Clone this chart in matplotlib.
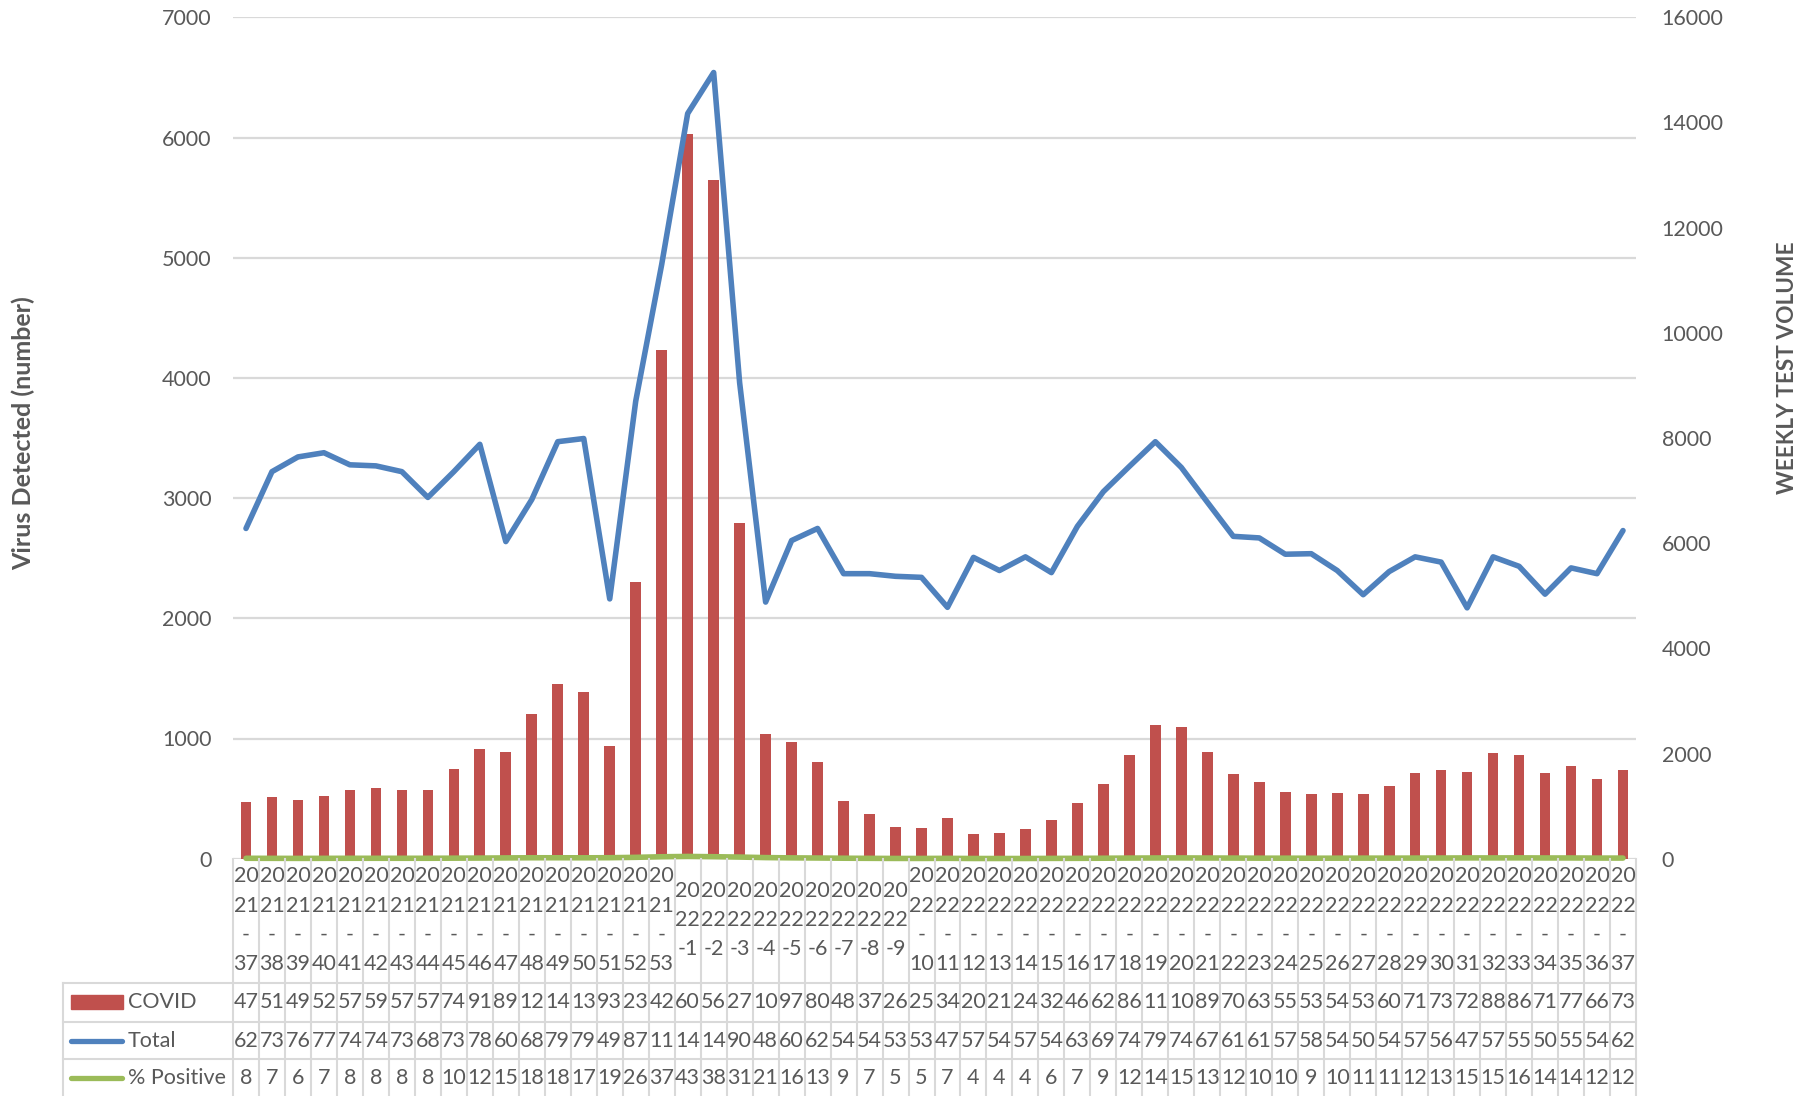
import numpy as np
import matplotlib
matplotlib.use("Agg")
import matplotlib.pyplot as plt
from matplotlib.lines import Line2D
from matplotlib.patches import Rectangle

# ---------------- data ----------------
categories = ['2021-37', '2021-38', '2021-39', '2021-40', '2021-41', '2021-42', '2021-43',
              '2021-44', '2021-45', '2021-46', '2021-47', '2021-48', '2021-49', '2021-50',
              '2021-51', '2021-52', '2021-53',
              '2022-1', '2022-2', '2022-3', '2022-4', '2022-5', '2022-6', '2022-7', '2022-8',
              '2022-9', '2022-10', '2022-11', '2022-12', '2022-13', '2022-14', '2022-15',
              '2022-16', '2022-17', '2022-18', '2022-19', '2022-20', '2022-21', '2022-22',
              '2022-23', '2022-24', '2022-25', '2022-26', '2022-27', '2022-28', '2022-29',
              '2022-30', '2022-31', '2022-32', '2022-33', '2022-34', '2022-35', '2022-36',
              '2022-37']

covid = [475, 515, 490, 525, 575, 590, 575, 570, 745, 915, 890, 1205, 1450, 1385, 935, 2300, 4230,
         6030, 5650, 2795, 1040, 975, 805, 480, 375, 265,
         255, 340, 205, 215, 245, 325, 465, 625, 865, 1110, 1095, 890, 708, 635, 555, 535, 545,
         535, 605, 712, 735, 725, 880, 865, 715, 775, 665, 735]

total = [6280, 7360, 7640, 7720, 7490, 7470, 7360, 6870, 7360, 7880, 6030, 6830, 7930, 7990,
         4940, 8700, 11300,
         14170, 14950, 9050, 4880, 6050, 6280, 5420, 5420, 5370,
         5350, 4780, 5730, 5480, 5740, 5440, 6320, 6980, 7460, 7930, 7440, 6780, 6130, 6100,
         5790, 5800, 5480, 5020, 5460, 5740, 5640, 4770, 5740, 5560, 5030, 5530, 5420, 6240]

pct_positive = [8, 7, 6, 7, 8, 8, 8, 8, 10, 12, 15, 18, 18, 17, 19, 26, 37,
                43, 38, 31, 21, 16, 13, 9, 7, 5,
                5, 7, 4, 4, 4, 6, 7, 9, 12, 14, 15, 13, 12, 10, 10, 9, 10, 11, 11, 12, 13,
                15, 15, 16, 14, 14, 12, 12]

series_names = ['COVID', 'Total', '% Positive']
left_ticks = [0, 1000, 2000, 3000, 4000, 5000, 6000, 7000]
right_ticks = [0, 2000, 4000, 6000, 8000, 10000, 12000, 14000, 16000]

# ---------------- style ----------------
plt.rcParams['font.family'] = ['Lato', 'DejaVu Sans']
W, H = 1816, 1096
TXT = '#595959'
GRID = '#D9D9D9'
RED = '#C0504D'
BLUE = '#4F81BD'
GREEN = '#9BBB59'
FS = 15.5

fig = plt.figure(figsize=(W / 100, H / 100), dpi=100)

L, R, T, B = 233.0, 1636.0, 17.3, 858.7
ax = fig.add_axes([L / W, 1 - B / H, (R - L) / W, (B - T) / H])
n = len(categories)
x = np.arange(n)

ax.bar(x, covid, width=0.41, color=RED, zorder=2)
ax.set_xlim(-0.5, n - 0.5)
ax.set_ylim(left_ticks[0], left_ticks[-1])
ax.set_yticks(left_ticks)
ax.yaxis.grid(True, color=GRID, lw=1.6)
ax.set_axisbelow(True)
ax.set_xticks([])
for s in ax.spines.values():
    s.set_visible(False)
ax.tick_params(axis='y', length=0, labelsize=FS, labelcolor=TXT, pad=15.5)

ax2 = ax.twinx()
ax2.plot(x, total, color=BLUE, lw=4, solid_joinstyle='round', solid_capstyle='round', zorder=4)
ax2.plot(x, pct_positive, color=GREEN, lw=4, solid_capstyle='round', zorder=3, clip_on=False)
ax2.set_ylim(right_ticks[0], right_ticks[-1])
ax2.set_yticks(right_ticks)
ax2.set_xlim(-0.5, n - 0.5)
for s in ax2.spines.values():
    s.set_visible(False)
ax2.tick_params(axis='y', length=0, labelsize=FS, labelcolor=TXT, pad=18.5)

# axis titles
fig.text(23 / W, 1 - 433 / H, 'Virus Detected (number)', rotation=90, weight='bold',
         fontsize=18, color=TXT, ha='center', va='center')
fig.text(1787 / W, 1 - 368 / H, 'WEEKLY TEST VOLUME', rotation=90, weight='bold',
         fontsize=16.3, color=TXT, ha='center', va='center')


def fline(x0, y0, x1, y1, **kw):
    fig.add_artist(Line2D([x0 / W, x1 / W], [1 - y0 / H, 1 - y1 / H],
                          transform=fig.transFigure, **kw))


# ---------------- data table ----------------
cw = (R - L) / n
row_tops = [983.3, 1021.7, 1059.3]
row_h = 37.8
LEG_L = 63.0

# vertical grid lines
for i in range(n + 1):
    xb = L + i * cw
    fline(xb, B, xb, H, color=GRID, lw=1.5, zorder=1)
fline(LEG_L, row_tops[0], LEG_L, H, color=GRID, lw=1.5)
for yt in row_tops:
    fline(LEG_L, yt, R, yt, color=GRID, lw=1.5)

# category labels (wrapped like the original)
LS = 29.0
LAB_C = 920.0
for i, c in enumerate(categories):
    year, week = c.split('-')
    lines = [year[:2], year[2:]]
    if len(week) == 1:
        lines.append('-' + week)
    else:
        lines += ['-', week]
    k = len(lines)
    xc = L + (i + 0.5) * cw
    for j, t in enumerate(lines):
        yc = LAB_C + (j - (k - 1) / 2) * LS
        fig.text(xc / W, 1 - yc / H, t, ha='center', va='center', fontsize=FS, color=TXT)

# table values (cells clip to the first two characters as in the original)
def cell_text(v):
    return str(int(round(v)))[:2]

rows = [covid, total, pct_positive]
for r, vals in enumerate(rows):
    yc = row_tops[r] + row_h / 2
    for i, v in enumerate(vals):
        xc = L + (i + 0.5) * cw
        fig.text(xc / W, 1 - yc / H, cell_text(v), ha='center', va='center',
                 fontsize=FS, color=TXT)

# legend keys
fig.add_artist(Rectangle((71 / W, 1 - 1009 / H), (123 - 71) / W, 14 / H,
                         transform=fig.transFigure, color=RED))
yc1 = row_tops[1] + row_h / 2
fline(71, yc1, 122, yc1, color=BLUE, lw=3.8, solid_capstyle='round')
yc2 = row_tops[2] + row_h / 2
fline(71, yc2, 122, yc2, color=GREEN, lw=3.8, solid_capstyle='round')
for r, name in enumerate(series_names):
    yc = row_tops[r] + row_h / 2
    fig.text(128 / W, 1 - yc / H, name, ha='left', va='center', fontsize=FS, color=TXT)

fig.savefig('out.png', dpi=100)
